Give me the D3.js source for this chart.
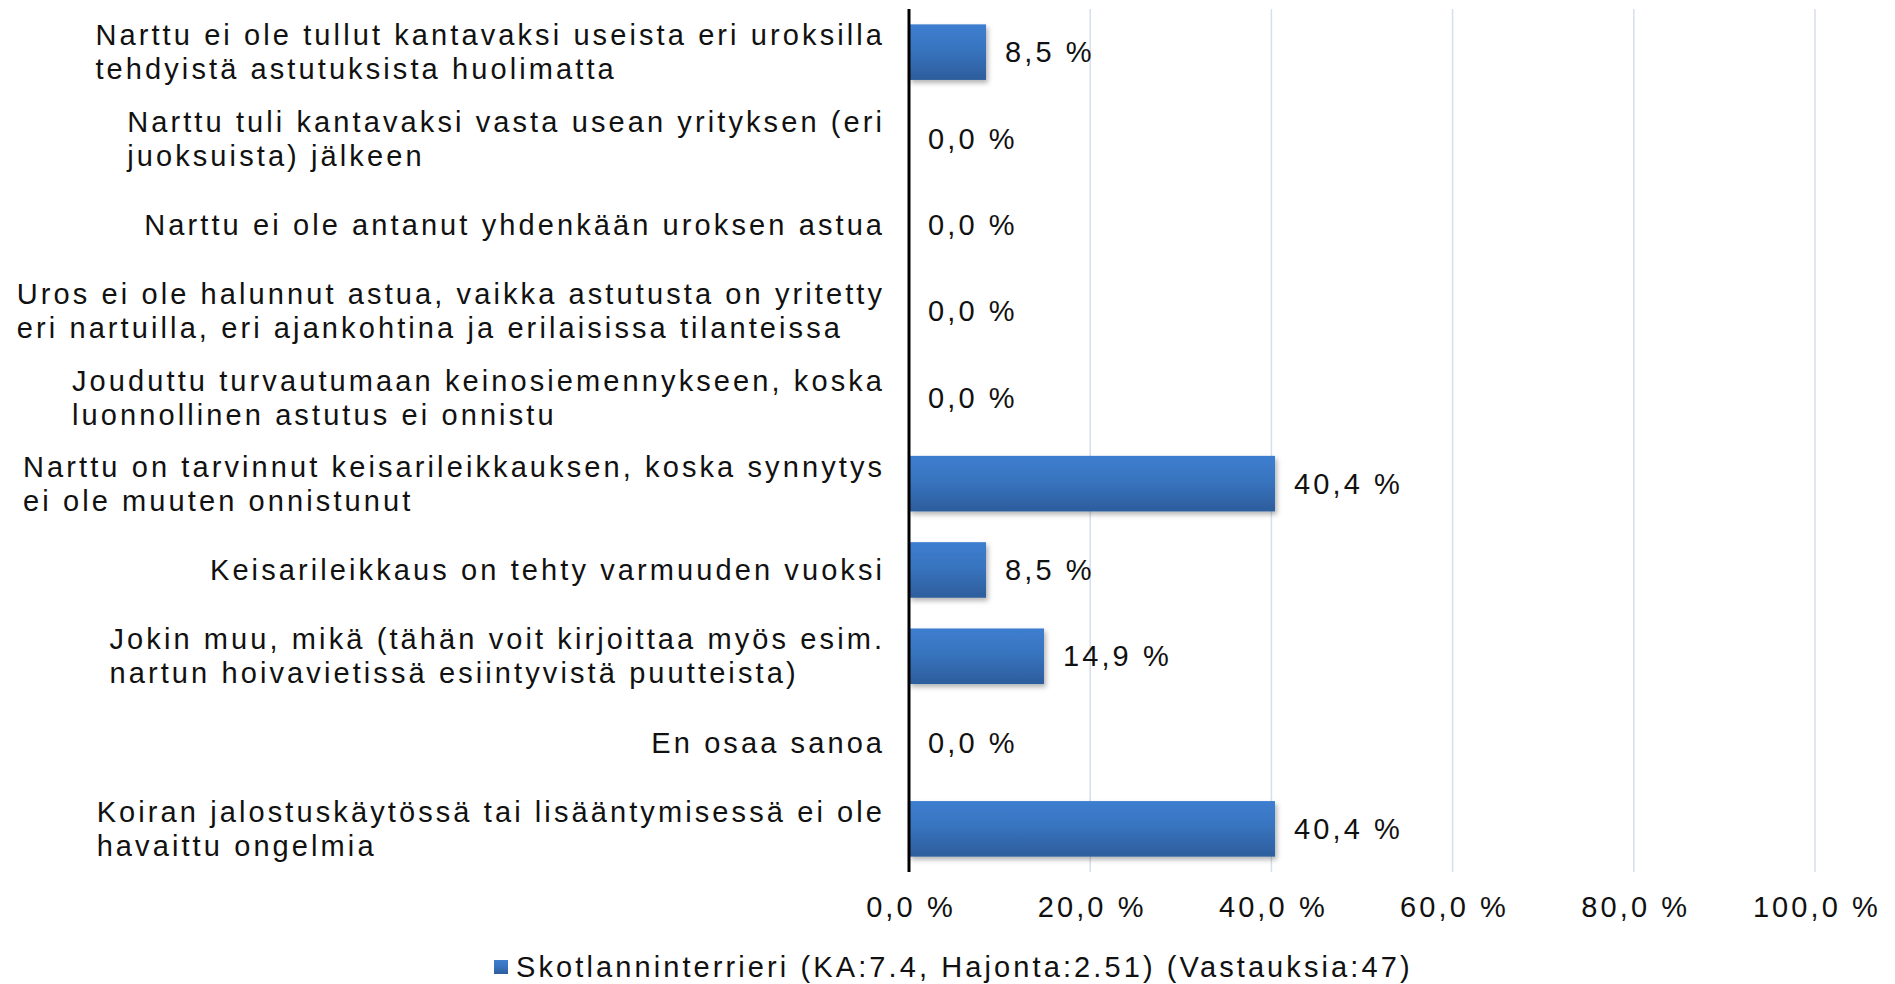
<!DOCTYPE html>
<html>
<head>
<meta charset="utf-8">
<script src="https://cdn.jsdelivr.net/npm/d3@7"></script>
<style>
  html, body { margin: 0; padding: 0; background: #fff; }
  svg { display: block; }
  text { font-family: "Liberation Sans", Arial, sans-serif; font-size: 29px; letter-spacing: 3.1px; fill: #111; }
</style>
</head>
<body>
<svg id="chart"></svg>
<script>
// categories, each one split into its lines as in the original
const categories = [
  ["Narttu ei ole tullut kantavaksi useista eri uroksilla", "tehdyistä astutuksista huolimatta"],
  ["Narttu tuli kantavaksi vasta usean yrityksen (eri", "juoksuista) jälkeen"],
  ["Narttu ei ole antanut yhdenkään uroksen astua"],
  ["Uros ei ole halunnut astua, vaikka astutusta on yritetty", "eri nartuilla, eri ajankohtina ja erilaisissa tilanteissa"],
  ["Jouduttu turvautumaan keinosiemennykseen, koska", "luonnollinen astutus ei onnistu"],
  ["Narttu on tarvinnut keisarileikkauksen, koska synnytys", "ei ole muuten onnistunut"],
  ["Keisarileikkaus on tehty varmuuden vuoksi"],
  ["Jokin muu, mikä (tähän voit kirjoittaa myös esim.", "nartun hoivavietissä esiintyvistä puutteista)"],
  ["En osaa sanoa"],
  ["Koiran jalostuskäytössä tai lisääntymisessä ei ole", "havaittu ongelmia"]
]
const values = [8.5, 0.0, 0.0, 0.0, 0.0, 40.4, 8.5, 14.9, 0.0, 40.4]
const ticks = [0, 20, 40, 60, 80, 100]
const seriesName = "Skotlanninterrieri (KA:7.4, Hajonta:2.51) (Vastauksia:47)"

const W = 1895, H = 984
const margin = { top: 9, right: 80, bottom: 112, left: 909 }

const svg = d3.select("#chart").attr("width", W).attr("height", H)

const defs = svg.append("defs")
const grad = defs.append("linearGradient").attr("id", "barGrad")
  .attr("x1", 0).attr("y1", 0).attr("x2", 0).attr("y2", 1)
grad.append("stop").attr("offset", "0%").attr("stop-color", "#3e7ed0")
grad.append("stop").attr("offset", "45%").attr("stop-color", "#3874bf")
grad.append("stop").attr("offset", "100%").attr("stop-color", "#2d5d9c")

const shadow = defs.append("filter").attr("id", "shadow")
  .attr("x", "-10%").attr("y", "-10%").attr("width", "130%").attr("height", "140%")
shadow.append("feDropShadow").attr("dx", 2).attr("dy", 3).attr("stdDeviation", 2.5)
  .attr("flood-color", "#000").attr("flood-opacity", 0.3)

const x = d3.scaleLinear().domain([0, 100]).range([margin.left, margin.left + 906])
const y = d3.scaleBand().domain(d3.range(categories.length))
  .range([margin.top, H - margin.bottom]).paddingInner(0.356).paddingOuter(0.178)

const fmt = v => d3.format(".1f")(v).replace(".", ",") + " %"

// grid lines
svg.append("g").selectAll("line")
  .data(ticks.filter(t => t > 0))
  .join("line")
  .attr("x1", d => x(d)).attr("x2", d => x(d))
  .attr("y1", y.range()[0]).attr("y2", y.range()[1])
  .attr("stroke", "#d8dfea").attr("stroke-width", 1.5)

// bars
svg.append("g").selectAll("rect")
  .data(values)
  .join("rect")
  .attr("x", x(0))
  .attr("y", (d, i) => y(i))
  .attr("width", d => x(d) - x(0))
  .attr("height", y.bandwidth())
  .attr("fill", "url(#barGrad)")
  .attr("filter", d => d > 0 ? "url(#shadow)" : null)

// value labels
svg.append("g").selectAll("text")
  .data(values)
  .join("text")
  .attr("x", d => x(d) + 19)
  .attr("y", (d, i) => y(i) + y.bandwidth() / 2)
  .attr("dy", "0.35em")
  .text(d => fmt(d))

// vertical axis line
svg.append("line")
  .attr("x1", x(0)).attr("x2", x(0))
  .attr("y1", y.range()[0]).attr("y2", y.range()[1])
  .attr("stroke", "#000").attr("stroke-width", 3)

// x axis tick labels
const xAxis = svg.append("g")
  .attr("transform", `translate(0,${y.range()[1]})`)
  .call(d3.axisBottom(x).tickValues(ticks).tickSize(0).tickPadding(24).tickFormat(fmt))
xAxis.select(".domain").remove()
xAxis.selectAll("text").attr("font-family", null).attr("font-size", null).attr("fill", null)
  .attr("dx", "0.05em")

// category labels: block right aligned, lines left aligned inside it
const lineH = 34
const labelRight = 882
svg.append("g").selectAll("g")
  .data(categories)
  .join("g")
  .each(function(lines, i) {
    const g = d3.select(this)
    const cy = y(i) + y.bandwidth() / 2
    const t = g.append("text").attr("y", 0)
    lines.forEach((ln, k) => {
      t.append("tspan").attr("x", 0)
        .attr("y", cy + (k - (lines.length - 1) / 2) * lineH)
        .attr("dy", "0.35em")
        .text(ln)
    })
    const w = d3.max(t.selectAll("tspan").nodes(), n => n.getComputedTextLength()) - 3.1
    g.attr("transform", `translate(${labelRight - w},0)`)
  })

// legend
const legend = svg.append("g").attr("transform", "translate(494,0)")
legend.append("text").attr("x", 22).attr("y", 967).attr("dy", "0.35em").text(seriesName)
legend.append("rect").attr("x", 0).attr("y", 960).attr("width", 14).attr("height", 14)
  .attr("fill", "url(#barGrad)")
</script>
</body>
</html>
